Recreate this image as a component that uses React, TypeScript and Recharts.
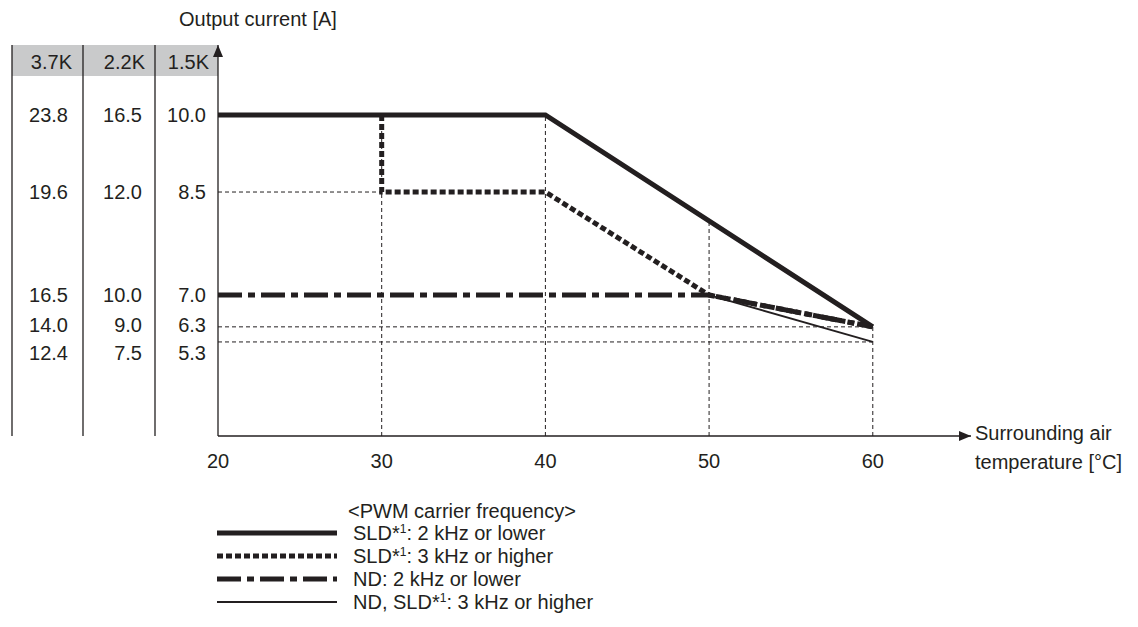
import React from "react";
import { LineChart, Line, XAxis, YAxis, ReferenceLine } from "recharts";

const INK = "#231f20";
const HEAD_FILL = "#c9cacb";
const FONT = "'Liberation Sans', Arial, Helvetica, sans-serif";

// surrounding air temperature [°C]
const TEMP_TICKS = [20, 30, 40, 50, 60];

// output current table, one row per level
const CAPACITIES = ["3.7K", "2.2K", "1.5K"];
const CURRENT_37K = ["23.8", "19.6", "16.5", "14.0", "12.4"];
const CURRENT_22K = ["16.5", "12.0", "10.0", "9.0", "7.5"];
const CURRENT_15K = [10.0, 8.5, 7.0, 6.3, 5.3];
// the drawing is not to scale: where each level sits on the vertical axis
const LEVEL_HEIGHT = [10.0, 7.6, 4.39, 3.4, 2.93];
// the table rows are spread a bit so the last two don't collide
const ROW_HEIGHT = [10.0, 7.6, 4.39, 3.46, 2.59];

// series, as temperature / 1.5K current
const SLD_LOW_TEMP = [20, 40, 60];
const SLD_LOW_CUR = [10.0, 10.0, 6.3];
const SLD_HIGH_TEMP = [30, 30, 40, 50, 60];
const SLD_HIGH_CUR = [10.0, 8.5, 8.5, 7.0, 6.3];
const ND_LOW_TEMP = [20, 50, 60];
const ND_LOW_CUR = [7.0, 7.0, 6.3];
const ND_HIGH_TEMP = [50, 60];
const ND_HIGH_CUR = [7.0, 5.3];

// thin dashed guides
const H_GUIDE_LEVEL = [8.5, 6.3, 5.3];
const H_GUIDE_TO = [30, 60, 60];
const V_GUIDE_AT = [30, 40, 50, 60];

const W = 1138;
const H = 627;
const MARGIN = { top: 45, right: 167, bottom: 161, left: 217 };
const X_AXIS_H = 30;
const PLOT_H = H - MARGIN.top - MARGIN.bottom - X_AXIS_H;
const X_END = 66;
const Y_END = 12.18;

const level = (cur: number) => LEVEL_HEIGHT[CURRENT_15K.indexOf(cur)];
const toPoints = (temps: number[], curs: number[]) =>
    temps.map((t, i) => ({ t, y: level(curs[i]) }));

// top of the vertical guides follows the SLD 2 kHz curve
const sldLowAt = (t: number) => {
    for (let i = 0; i < SLD_LOW_TEMP.length - 1; i++) {
        const t0 = SLD_LOW_TEMP[i];
        const t1 = SLD_LOW_TEMP[i + 1];
        if (t >= t0 && t <= t1) {
            const y0 = level(SLD_LOW_CUR[i]);
            const y1 = level(SLD_LOW_CUR[i + 1]);
            return y0 + ((t - t0) / (t1 - t0)) * (y1 - y0);
        }
    }
    return 0;
};

const SERIES = [
    { key: "sldLow", name: "2 kHz or lower", sld: true, nd: false, data: toPoints(SLD_LOW_TEMP, SLD_LOW_CUR), width: 5, dash: undefined },
    { key: "sldHigh", name: "3 kHz or higher", sld: true, nd: false, data: toPoints(SLD_HIGH_TEMP, SLD_HIGH_CUR), width: 5, dash: "6 3" },
    { key: "ndLow", name: "2 kHz or lower", sld: false, nd: true, data: toPoints(ND_LOW_TEMP, ND_LOW_CUR), width: 5, dash: "24 6 7 6" },
    { key: "ndHigh", name: "3 kHz or higher", sld: true, nd: true, data: toPoints(ND_HIGH_TEMP, ND_HIGH_CUR), width: 1.8, dash: undefined },
];

const txt = { fontFamily: FONT, fontSize: 20, fill: INK };
const COL_LEFT = [-206, -135, -63];
const COL_TEXT_END = [-150, -76, -12];
const HEAD_TEXT_END = [-146, -73, -9];

function TableHead(props: any) {
    const { x, y } = props.viewBox;
    return (
        <g>
            <rect x={x + COL_LEFT[0]} y={y} width={-COL_LEFT[0]} height={31} fill={HEAD_FILL} />
            {COL_LEFT.map((dx, i) => (
                <line key={i} x1={x + dx} x2={x + dx} y1={y} y2={y + PLOT_H} stroke={INK} strokeWidth={1.3} />
            ))}
            {CAPACITIES.map((c, i) => (
                <text key={c} x={x + HEAD_TEXT_END[i]} y={y + 17} textAnchor="end" dominantBaseline="central" style={txt}>
                    {c}
                </text>
            ))}
            <text x={x - 39} y={y - 26} dominantBaseline="central" style={txt}>
                Output current [A]
            </text>
        </g>
    );
}

function LevelRow(props: any, row: number) {
    const { x, y } = props.viewBox;
    const vals = [CURRENT_37K[row], CURRENT_22K[row], CURRENT_15K[row].toFixed(1)];
    return (
        <g>
            {vals.map((v, i) => (
                <text key={i} x={x + COL_TEXT_END[i]} y={y} textAnchor="end" dominantBaseline="central" style={txt}>
                    {v}
                </text>
            ))}
        </g>
    );
}

function XTitle(props: any) {
    const { x, y, width } = props.viewBox;
    return (
        <g>
            <text x={x + width + 4} y={y - 3} dominantBaseline="central" style={txt}>
                Surrounding air
            </text>
            <text x={x + width + 4} y={y + 26} dominantBaseline="central" style={txt}>
                temperature [°C]
            </text>
        </g>
    );
}

function Sample({ width, dash }: { width: number; dash?: string }) {
    return (
        <svg width={120} height={10} style={{ display: "block" }}>
            <line x1={0} x2={120} y1={5} y2={5} stroke={INK} strokeWidth={width} strokeDasharray={dash} />
        </svg>
    );
}

function LegendBlock() {
    const rowTop = [522, 545, 568, 591];
    return (
        <div style={{ fontFamily: FONT, fontSize: 20, color: INK }}>
            <div style={{ position: "absolute", left: 348, top: 500, lineHeight: "23px", whiteSpace: "nowrap" }}>
                &lt;PWM carrier frequency&gt;
            </div>
            {SERIES.map((s, i) => (
                <React.Fragment key={s.key}>
                    <div style={{ position: "absolute", left: 217, top: rowTop[i] + 6 }}>
                        <Sample width={s.width} dash={s.dash} />
                    </div>
                    <div style={{ position: "absolute", left: 353, top: rowTop[i], lineHeight: "23px", whiteSpace: "nowrap" }}>
                        {s.nd && "ND"}
                        {s.nd && s.sld && ", "}
                        {s.sld && (
                            <>
                                SLD*
                                <span style={{ fontSize: 12, position: "relative", top: -7 }}>1</span>
                            </>
                        )}
                        : {s.name}
                    </div>
                </React.Fragment>
            ))}
        </div>
    );
}

export default function App() {
    return (
        <div style={{ position: "relative", width: W, height: H, background: "#fff" }}>
            <style>{"body{margin:0}"}</style>
            <LineChart width={W} height={H} margin={MARGIN}>
                <defs>
                    <marker id="arrowHead" viewBox="0 0 12 10" refX={12} refY={5} markerWidth={12} markerHeight={10} markerUnits="userSpaceOnUse" orient="auto-start-reverse">
                        <path d="M0,0 L12,5 L0,10 z" fill={INK} />
                    </marker>
                </defs>
                <XAxis
                    type="number"
                    dataKey="t"
                    domain={[20, X_END]}
                    ticks={TEMP_TICKS}
                    allowDataOverflow
                    height={X_AXIS_H}
                    tickLine={false}
                    tickMargin={12}
                    axisLine={{ stroke: INK, strokeWidth: 1.3, markerEnd: "url(#arrowHead)" }}
                    tick={{ fontFamily: FONT, fontSize: 20, fill: INK }}
                    label={{ content: XTitle }}
                />
                <YAxis
                    type="number"
                    dataKey="y"
                    domain={[0, Y_END]}
                    allowDataOverflow
                    width={1}
                    tick={false}
                    tickLine={false}
                    axisLine={{ stroke: INK, strokeWidth: 1.3, markerStart: "url(#arrowHead)" }}
                />
                <ReferenceLine y={Y_END} stroke="none" label={(p: any) => <TableHead {...p} />} />
                {ROW_HEIGHT.map((h, row) => (
                    <ReferenceLine key={"row" + row} y={h} stroke="none" label={(p: any) => LevelRow(p, row)} />
                ))}
                {H_GUIDE_LEVEL.map((c, i) => (
                    <ReferenceLine
                        key={"hg" + c}
                        segment={[{ x: 20, y: level(c) }, { x: H_GUIDE_TO[i], y: level(c) }]}
                        stroke={INK}
                        strokeWidth={1}
                        strokeDasharray="4 3"
                    />
                ))}
                {V_GUIDE_AT.map((t) => (
                    <ReferenceLine
                        key={"vg" + t}
                        segment={[{ x: t, y: 0 }, { x: t, y: sldLowAt(t) }]}
                        stroke={INK}
                        strokeWidth={1}
                        strokeDasharray="4 3"
                    />
                ))}
                {SERIES.map((s) => (
                    <Line
                        key={s.key}
                        data={s.data}
                        dataKey="y"
                        type="linear"
                        stroke={INK}
                        strokeWidth={s.width}
                        strokeDasharray={s.dash}
                        dot={false}
                        activeDot={false}
                        isAnimationActive={false}
                    />
                ))}
            </LineChart>
            <LegendBlock />
        </div>
    );
}
